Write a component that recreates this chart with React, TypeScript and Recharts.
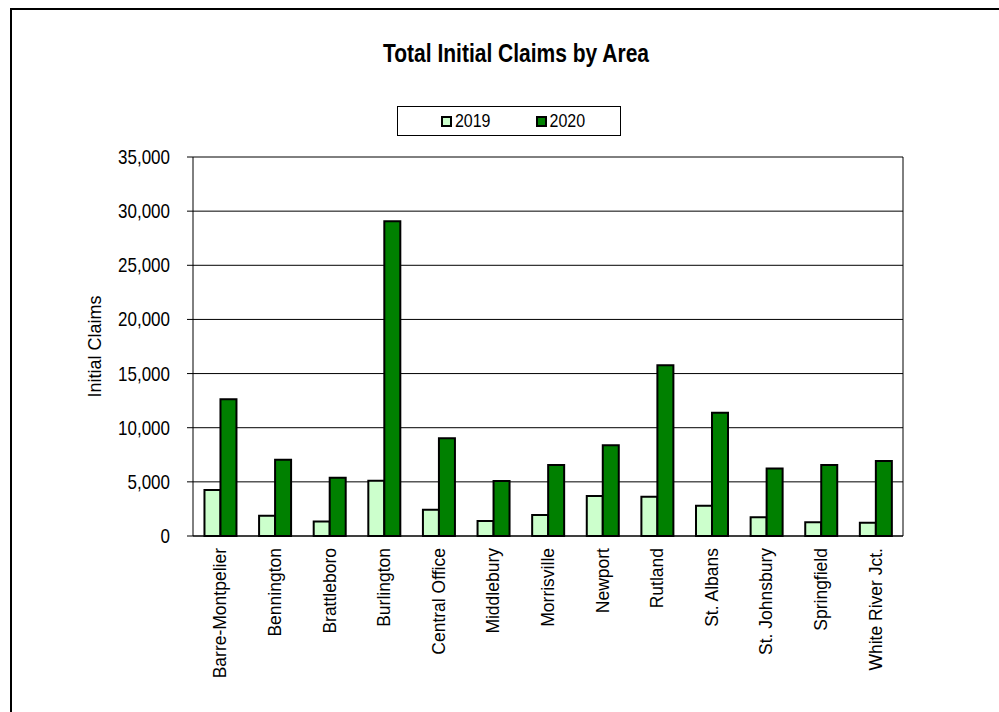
import React from "react";
import { BarChart, Bar, XAxis, YAxis, CartesianGrid, Label } from "recharts";

const categories = [
  "Barre-Montpelier",
  "Bennington",
  "Brattleboro",
  "Burlington",
  "Central Office",
  "Middlebury",
  "Morrisville",
  "Newport",
  "Rutland",
  "St. Albans",
  "St. Johnsbury",
  "Springfield",
  "White River Jct.",
];
const claims2019 = [4240, 1870, 1340, 5100, 2430, 1380, 1940, 3690, 3630, 2800, 1720, 1260, 1230];
const claims2020 = [12640, 7050, 5370, 29060, 9020, 5070, 6560, 8390, 15770, 11380, 6240, 6550, 6920];
const yTicks = [0, 5000, 10000, 15000, 20000, 25000, 30000, 35000];
const series = [
  { key: "y2019", name: "2019", fill: "#CCFFCC" },
  { key: "y2020", name: "2020", fill: "#008000" },
];

const data = categories.map((area, i) => ({
  area,
  y2019: claims2019[i],
  y2020: claims2020[i],
}));
const boundaryTicks = Array.from({ length: categories.length + 1 }, (_, i) => i);

const FONT = '"Liberation Sans", Arial, sans-serif';

const CatTick = (props: any) => {
  const { x, y, payload } = props;
  return (
    <text
      x={x}
      y={y}
      transform={`rotate(-90, ${x}, ${y})`}
      textAnchor="end"
      dominantBaseline="central"
      fontFamily={FONT}
      fontSize={17.5}
      fill="#000"
    >
      {payload.value}
    </text>
  );
};

const YTick = (props: any) => {
  const { x, y, payload } = props;
  return (
    <g transform={`translate(${x},${y})`}>
      <text
        x={0}
        y={0}
        transform="scale(1,1.2)"
        textAnchor="end"
        dominantBaseline="central"
        fontFamily={FONT}
        fontSize={17}
        fill="#000"
      >
        {Number(payload.value).toLocaleString("en-US")}
      </text>
    </g>
  );
};

export default function App() {
  return (
    <div
      style={{
        position: "absolute",
        left: 0,
        top: 0,
        width: 999,
        height: 712,
        background: "#fff",
        fontFamily: FONT,
        overflow: "hidden",
      }}
    >
      <div
        style={{
          position: "absolute",
          left: 10,
          top: 8,
          width: 989,
          height: 704,
          borderTop: "2px solid #000",
          borderLeft: "2px solid #000",
          boxSizing: "border-box",
        }}
      />
      <div
        style={{
          position: "absolute",
          left: 266,
          top: 42,
          width: 500,
          height: 24,
          lineHeight: "24px",
          textAlign: "center",
          fontWeight: "bold",
          fontSize: 21,
          color: "#000",
          transform: "scaleY(1.2)",
          transformOrigin: "center",
        }}
      >
        Total Initial Claims by Area
      </div>
      <div
        style={{
          position: "absolute",
          left: 397,
          top: 106,
          width: 224,
          height: 30,
          border: "1px solid #000",
          boxSizing: "border-box",
          display: "flex",
          alignItems: "center",
          justifyContent: "center",
          gap: 45,
          paddingLeft: 8,
          background: "#fff",
          zIndex: 2,
        }}
      >
        {series.map((s) => (
          <div key={s.key} style={{ display: "flex", alignItems: "center", gap: 3 }}>
            <span
              style={{
                display: "inline-block",
                width: 11,
                height: 11,
                background: s.fill,
                border: "2px solid #000",
                boxSizing: "border-box",
              }}
            />
            <span
              style={{
                display: "inline-block",
                fontSize: 16,
                lineHeight: "18px",
                transform: "scaleY(1.2)",
              }}
            >
              {s.name}
            </span>
          </div>
        ))}
      </div>
      <div style={{ position: "absolute", left: 0, top: 0 }}>
        <BarChart
          width={999}
          height={712}
          data={data}
          margin={{ top: 157, right: 96, bottom: 36, left: 93 }}
          barCategoryGap="21%"
          barGap={0}
        >
          <CartesianGrid
            stroke="#000"
            strokeWidth={1}
            horizontal={true}
            vertical={true}
            verticalCoordinatesGenerator={({ offset }: any) => [offset.left + offset.width]}
          />
          <XAxis
            xAxisId="grid"
            type="number"
            domain={[0, categories.length]}
            allowDataOverflow
            ticks={boundaryTicks}
            tick={false}
            tickLine={{ stroke: "#000" }}
            tickSize={6}
            axisLine={false}
            height={0}
          />
          <XAxis
            xAxisId="cat"
            dataKey="area"
            interval={0}
            tick={<CatTick />}
            tickLine={false}
            tickSize={0}
            tickMargin={12}
            axisLine={{ stroke: "#000", strokeWidth: 1 }}
            height={140}
          />
          <YAxis
            width={100}
            domain={[0, 35000]}
            ticks={yTicks}
            interval={0}
            tick={<YTick />}
            tickLine={{ stroke: "#000" }}
            tickSize={6}
            tickMargin={17}
            axisLine={{ stroke: "#000" }}
          >
            <Label
              value="Initial Claims"
              angle={-90}
              position="insideLeft"
              offset={2}
              style={{ textAnchor: "middle", fontSize: 18, fontFamily: FONT, fill: "#000" }}
            />
          </YAxis>
          {series.map((s) => (
            <Bar
              key={s.key}
              xAxisId="cat"
              dataKey={s.key}
              name={s.name}
              fill={s.fill}
              stroke="#000"
              strokeWidth={2}
              isAnimationActive={false}
            />
          ))}
        </BarChart>
      </div>
    </div>
  );
}
